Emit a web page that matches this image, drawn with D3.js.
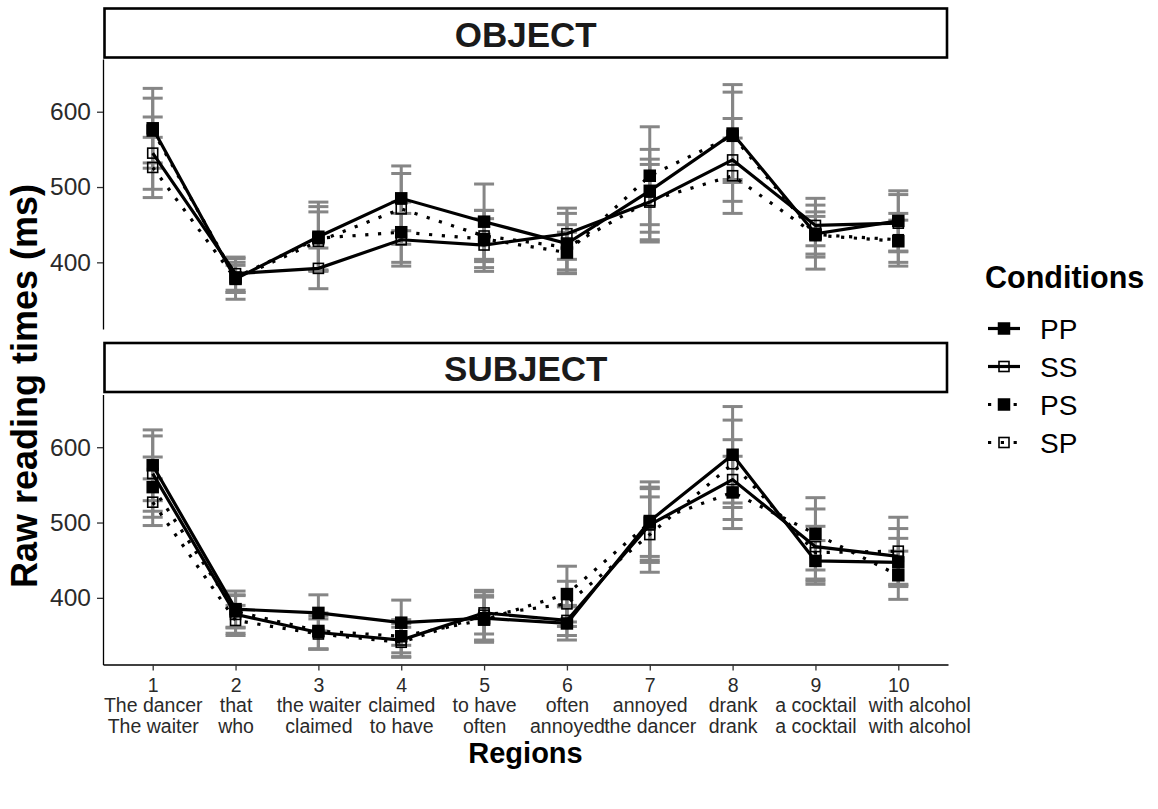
<!DOCTYPE html>
<html>
<head>
<meta charset="utf-8">
<script src="https://cdn.jsdelivr.net/npm/d3@7"></script>
<style>
  body { margin: 0; background: #fff; }
  svg { display: block; font-family: "Liberation Sans", Arial, sans-serif; }
</style>
</head>
<body>
<svg id="chart" width="1158" height="809"></svg>
<script>
// Regions (x axis) and their two sentence fragments
const regions = [1, 2, 3, 4, 5, 6, 7, 8, 9, 10];
const regionLine1 = ["The dancer", "that", "the waiter", "claimed", "to have", "often", "annoyed", "drank", "a cocktail", "with alcohol"];
const regionLine2 = ["The waiter", "who", "claimed", "to have", "often", "annoyed", "the dancer", "drank", "a cocktail", "with alcohol"];

const panels = ["OBJECT", "SUBJECT"];
const conditions = ["PP", "SS", "PS", "SP"];
const yTicks = [400, 500, 600];

// OBJECT means (ms)
const objPP = [578, 378, 434, 485, 454, 425, 495, 571, 438, 455];
const objSS = [545, 385, 392, 430, 423, 438, 480, 536, 449, 452];
const objPS = [575, 380, 432, 440, 431, 413, 515, 568, 436, 428];
const objSP = [526, 378, 428, 471, 435, 420, 482, 515, 437, 430];
// OBJECT error bar half widths
const objPPse = [53, 27, 46, 43, 50, 40, 55, 65, 47, 40];
const objSSse = [48, 22, 27, 35, 35, 34, 50, 55, 27, 38];
const objPSse = [43, 20, 42, 40, 38, 27, 65, 58, 25, 28];
const objSPse = [40, 18, 39, 47, 34, 30, 55, 50, 30, 35];

// SUBJECT means (ms)
const subPP = [576, 385, 380, 367, 373, 366, 502, 590, 449, 447];
const subSS = [565, 378, 354, 344, 380, 370, 497, 557, 468, 455];
const subPS = [547, 382, 356, 349, 371, 405, 500, 540, 485, 430];
const subSP = [527, 370, 352, 341, 377, 392, 484, 578, 460, 462];
// SUBJECT error bar half widths
const subPPse = [47, 24, 24, 30, 30, 22, 52, 64, 27, 32];
const subSSse = [50, 25, 22, 22, 28, 20, 50, 53, 50, 37];
const subPSse = [40, 22, 24, 22, 30, 37, 45, 48, 48, 32];
const subSPse = [31, 20, 20, 20, 33, 30, 50, 58, 35, 45];

const means = {
  OBJECT: { PP: objPP, SS: objSS, PS: objPS, SP: objSP },
  SUBJECT: { PP: subPP, SS: subSS, PS: subPS, SP: subSP },
};
const errs = {
  OBJECT: { PP: objPPse, SS: objSSse, PS: objPSse, SP: objSPse },
  SUBJECT: { PP: subPPse, SS: subSSse, PS: subPSse, SP: subSPse },
};

// line type / point type per condition
const dotted = { PP: false, SS: false, PS: true, SP: true };
const filled = { PP: true, SS: false, PS: true, SP: false };

const svg = d3.select("#chart");
const W = 1158, H = 809;
svg.append("rect").attr("width", W).attr("height", H).attr("fill", "#fff");

const panelH = 270;
const panelTop = { OBJECT: 59, SUBJECT: 394.5 };
const stripTop = { OBJECT: 8.5, SUBJECT: 343 };
const left = 103, right = 948;

const x = d3.scaleLinear().domain([0.4, 10.6]).range([left, right]);
const y = d3.scaleLinear().domain([311.5, 670]).range([panelH, 0]);

const dash = "3.2 9.6";
const lineW = 3.2;
const greyBar = "#868686";

function drawPoint(g, cx, cy, cond) {
  if (filled[cond]) {
    const s = 12.5;
    g.append("rect")
      .attr("x", cx - s / 2).attr("y", cy - s / 2)
      .attr("width", s).attr("height", s)
      .attr("fill", "#000");
  } else {
    const s = 10;
    g.append("rect")
      .attr("x", cx - s / 2).attr("y", cy - s / 2)
      .attr("width", s).attr("height", s)
      .attr("fill", "none").attr("stroke", "#000").attr("stroke-width", 1.6);
  }
}

panels.forEach((p) => {
  const g = svg.append("g").attr("transform", `translate(0,${panelTop[p]})`);

  // error bars first
  conditions.forEach((c) => {
    regions.forEach((r, i) => {
      const m = means[p][c][i], e = errs[p][c][i];
      const gx = x(r);
      g.append("line")
        .attr("x1", gx).attr("x2", gx)
        .attr("y1", y(m - e)).attr("y2", y(m + e))
        .attr("stroke", greyBar).attr("stroke-width", 3);
      [m - e, m + e].forEach((v) => {
        g.append("line")
          .attr("x1", gx - 10).attr("x2", gx + 10)
          .attr("y1", y(v)).attr("y2", y(v))
          .attr("stroke", greyBar).attr("stroke-width", 3);
      });
    });
  });

  // condition lines
  const line = d3.line().x((d) => x(d[0])).y((d) => y(d[1]));
  conditions.forEach((c) => {
    g.append("path")
      .datum(regions.map((r, i) => [r, means[p][c][i]]))
      .attr("d", line)
      .attr("fill", "none")
      .attr("stroke", "#000")
      .attr("stroke-width", lineW)
      .attr("stroke-dasharray", dotted[c] ? dash : null);
  });

  // points
  conditions.forEach((c) => {
    regions.forEach((r, i) => drawPoint(g, x(r), y(means[p][c][i]), c));
  });

  // y axis
  const ya = g.append("g")
    .attr("transform", `translate(${left},0)`)
    .call(d3.axisLeft(y).tickValues(yTicks).tickSize(6).tickSizeOuter(0).tickPadding(6));
  ya.select(".domain").attr("stroke", "#000").attr("stroke-width", 1.3);
  ya.selectAll(".tick line").attr("stroke", "#333").attr("stroke-width", 1.3);
  ya.selectAll(".tick text")
    .attr("font-size", 24.5).attr("fill", "#2a2a2a")
    .attr("font-family", "Liberation Sans, Arial, sans-serif");

  // strip
  svg.append("rect")
    .attr("x", 104.5).attr("y", stripTop[p])
    .attr("width", 842.5).attr("height", 49)
    .attr("fill", "#fff").attr("stroke", "#000").attr("stroke-width", 2.6);
  svg.append("text")
    .attr("x", (104.5 + 947) / 2).attr("y", stripTop[p] + 38)
    .attr("text-anchor", "middle")
    .attr("font-size", 35).attr("font-weight", "bold").attr("fill", "#1a1a1a")
    .text(p);

  // x axis only on the bottom panel
  if (p === "SUBJECT") {
    const xa = g.append("g")
      .attr("transform", `translate(0,${panelH})`)
      .call(d3.axisBottom(x).tickValues(regions).tickSize(6).tickSizeOuter(0).tickFormat(""));
    xa.select(".domain").attr("stroke", "#000").attr("stroke-width", 1.3);
    xa.selectAll(".tick line").attr("stroke", "#333").attr("stroke-width", 1.3);
    xa.selectAll(".tick").each(function (d, i) {
      const t = d3.select(this).append("text")
        .attr("fill", "#2a2a2a").attr("font-size", 19.5)
        .attr("text-anchor", "middle")
        .attr("font-family", "Liberation Sans, Arial, sans-serif");
      // the last region's words sit a little right of its tick in the original
      const shift = i === regions.length - 1 ? 21 : 0;
      [String(d), regionLine1[i], regionLine2[i]].forEach((s, k) => {
        t.append("tspan")
          .attr("x", k === 0 ? 0 : shift)
          .attr("y", 27 + k * 20.5)
          .text(s);
      });
    });
  }
});

// axis titles
svg.append("text")
  .attr("transform", "translate(37,386) rotate(-90)")
  .attr("text-anchor", "middle")
  .attr("font-size", 36).attr("font-weight", "bold")
  .text("Raw reading times (ms)");

svg.append("text")
  .attr("x", (left + right) / 2).attr("y", 763)
  .attr("text-anchor", "middle")
  .attr("font-size", 29).attr("font-weight", "bold")
  .text("Regions");

// legend
const lg = svg.append("g");
lg.append("text")
  .attr("x", 985).attr("y", 288)
  .attr("font-size", 30.5).attr("font-weight", "bold")
  .text("Conditions");
conditions.forEach((c, i) => {
  const cy = 328.5 + i * 38;
  lg.append("line")
    .attr("x1", 988).attr("x2", 1020)
    .attr("y1", cy).attr("y2", cy)
    .attr("stroke", "#000").attr("stroke-width", lineW)
    .attr("stroke-dasharray", dotted[c] ? dash : null);
  drawPoint(lg, 1004, cy, c);
  lg.append("text")
    .attr("x", 1040).attr("y", cy + 10)
    .attr("font-size", 28)
    .text(c);
});
</script>
</body>
</html>
